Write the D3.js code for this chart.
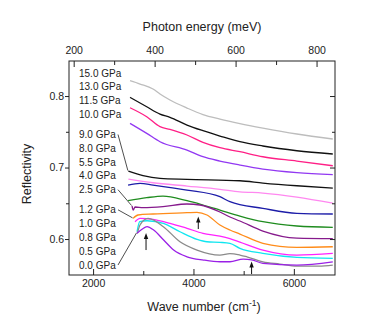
<!DOCTYPE html>
<html>
<head>
<meta charset="utf-8">
<script src="https://cdn.jsdelivr.net/npm/d3@7"></script>
<style>
  body { margin: 0; background: #fff; }
  svg text { font-family: "Liberation Sans", Arial, sans-serif; fill: #222; }
</style>
</head>
<body>
<script>
// pressure labels, top to bottom
var pressures = ["15.0 GPa", "13.0 GPa", "11.5 GPa", "10.0 GPa",
                 "9.0 GPa", "8.0 GPa", "5.5 GPa", "4.0 GPa", "2.5 GPa",
                 "1.2 GPa", "1.0 GPa", "0.8 GPa", "0.5 GPa", "0.0 GPa"];

// [wave number (cm-1), reflectivity]
var p150 = [[2736,0.8214],[2935,0.8168],[3194,0.8098],[3333,0.8028],[3532,0.7944],[3871,0.7832],[4189,0.7741],[4527,0.7678],[4925,0.7615],[5383,0.7552],[6060,0.7469],[6776,0.7399]];
var p130 = [[2736,0.7982],[3069,0.7850],[3333,0.7748],[3532,0.7702],[3871,0.7594],[4189,0.7515],[4527,0.7441],[4925,0.7361],[5383,0.7301],[6060,0.7235],[6776,0.7189]];
var p115 = [[2736,0.7836],[3069,0.7710],[3333,0.7571],[3532,0.7534],[3871,0.7455],[4189,0.7352],[4527,0.7277],[4925,0.7221],[5383,0.7151],[6060,0.7091],[6776,0.7025]];
var p100 = [[2736,0.7618],[3069,0.7478],[3333,0.7361],[3871,0.7245],[4189,0.7151],[4527,0.7091],[4925,0.7035],[5383,0.6979],[6060,0.6930],[6776,0.6902]];
var p90  = [[2703,0.6951],[2995,0.6888],[3333,0.6849],[3871,0.6835],[4925,0.6815],[5383,0.6783],[6060,0.6745],[6776,0.6713]];
var p80  = [[2703,0.6839],[3194,0.6787],[3871,0.6741],[4527,0.6695],[4925,0.6661],[5383,0.6643],[6060,0.6587],[6776,0.6501]];
var p55  = [[2697,0.6755],[2935,0.6778],[3194,0.6755],[3871,0.6685],[4527,0.6592],[4726,0.6522],[5383,0.6429],[6060,0.6359],[6776,0.6350]];
var p40  = [[2697,0.6536],[3069,0.6578],[3393,0.6601],[3871,0.6536],[4189,0.6476],[4527,0.6406],[4925,0.6322],[5383,0.6242],[6060,0.6182],[6776,0.6164]];
var p25  = [[2776,0.6462],[2800,0.6406],[2836,0.6448],[2995,0.6438],[3393,0.6452],[3871,0.6490],[4130,0.6476],[4527,0.6378],[4726,0.6308],[4925,0.6252],[5383,0.6112],[6060,0.6014],[6776,0.6007]];
var p12  = [[2796,0.6289],[2896,0.6336],[3194,0.6350],[3871,0.6368],[4070,0.6373],[4269,0.6336],[4527,0.6196],[4726,0.6126],[4925,0.6070],[5383,0.5940],[6060,0.5884],[6776,0.5892]];
var p10  = [[2836,0.6242],[2935,0.6290],[3194,0.6276],[3532,0.6220],[3871,0.6150],[4189,0.6080],[4527,0.6042],[4726,0.6007],[4925,0.5958],[5383,0.5846],[6060,0.5776],[6776,0.5800]];
var p08  = [[2876,0.6102],[2929,0.6242],[3075,0.6256],[3400,0.6220],[3731,0.6102],[4070,0.5996],[4269,0.5962],[4527,0.5954],[4726,0.5940],[4925,0.5870],[5383,0.5800],[6060,0.5744],[6776,0.5730]];
var p05  = [[2882,0.6080],[2935,0.6196],[3095,0.6289],[3400,0.6173],[3731,0.5962],[4070,0.5846],[4527,0.5776],[4726,0.5795],[4925,0.5776],[5065,0.5752],[5383,0.5682],[5721,0.5650],[6060,0.5620],[6500,0.5622],[6776,0.5636]];
var p00  = [[2876,0.6080],[2975,0.6136],[3075,0.6173],[3207,0.6126],[3406,0.5986],[3605,0.5846],[3871,0.5752],[4201,0.5706],[4527,0.5682],[4726,0.5682],[4992,0.5720],[5158,0.5710],[5383,0.5660],[6060,0.5636],[6776,0.5682]];

var series = [p150, p130, p115, p100, p90, p80, p55, p40, p25, p12, p10, p08, p05, p00];

var colors = ["#bdbdbd", "#111111", "#ff1f86", "#9238f2",
              "#111111", "#ff88f0", "#1c1ca8", "#1f8c1f", "#861a8c",
              "#ff8c1a", "#ff22ff", "#10e6f0", "#8a8a8a", "#9a20e6"];

// arrows marking the features
var arrowWn   = [3055, 4096, 5158];
var arrowTip  = [0.6084, 0.6315, 0.5685];
var arrowTail = [0.5846, 0.6140, 0.5510];

var xTicks = [2000, 4000, 6000];
var xMinor = [3000, 5000];
var topTicks = [200, 400, 600, 800];   // meV
var topMinor = [300, 500, 700];
var yTicks = [0.6, 0.7, 0.8];
var yMinor = [0.65, 0.75];
var cmPerMeV = 8.06554;

var width = 374, height = 336;
var margin = {top: 61, right: 39, bottom: 61, left: 69};
var w = width - margin.left - margin.right,
    h = height - margin.top - margin.bottom;

var svg = d3.select("body").append("svg")
    .attr("width", width)
    .attr("height", height);

var g = svg.append("g")
    .attr("transform", "translate(" + margin.left + "," + margin.top + ")");

var x = d3.scaleLinear().domain([1520, 6820]).range([0, w]);
var y = d3.scaleLinear().domain([0.5497, 0.849]).range([h, 0]);
// top axis: photon energy in meV
var xTop = d3.scaleLinear().domain(x.domain().map(function (d) { return d / cmPerMeV; })).range([0, w]);

// the curves
var line = d3.line()
    .curve(d3.curveMonotoneX)
    .x(function (d) { return x(d[0]); })
    .y(function (d) { return y(d[1]); });

g.selectAll("path.curve").data(series)
    .enter().append("path")
    .attr("class", "curve")
    .attr("d", line)
    .attr("fill", "none")
    .attr("stroke", function (d, i) { return colors[i]; })
    .attr("stroke-width", 1.3)
    .attr("stroke-linejoin", "round");

// axes (ticks inside except the left one)
function axisStyle(sel) {
  sel.select(".domain").remove();
  sel.selectAll("line").attr("stroke", "#222");
  sel.selectAll("text").attr("font-size", 10.5).attr("fill", "#222");
}

g.append("g").attr("transform", "translate(0," + h + ")")
  .call(d3.axisBottom(x).tickValues(xTicks).tickSizeInner(-6).tickSizeOuter(0).tickPadding(5)
        .tickFormat(d3.format("d")))
  .call(axisStyle);
g.append("g").attr("transform", "translate(0," + h + ")")
  .call(d3.axisBottom(x).tickValues(xMinor).tickSize(-4).tickFormat(""))
  .call(axisStyle);

g.append("g")
  .call(d3.axisTop(xTop).tickValues(topTicks).tickSizeInner(-6).tickSizeOuter(0).tickPadding(7)
        .tickFormat(d3.format("d")))
  .call(axisStyle);
g.append("g")
  .call(d3.axisTop(xTop).tickValues(topMinor).tickSize(-4).tickFormat(""))
  .call(axisStyle);

g.append("g")
  .call(d3.axisLeft(y).tickValues(yTicks).tickSizeInner(4).tickSizeOuter(0).tickPadding(1)
        .tickFormat(d3.format(".1f")))
  .call(axisStyle);
g.append("g")
  .call(d3.axisLeft(y).tickValues(yMinor).tickSize(3).tickFormat(""))
  .call(axisStyle);

g.append("g").attr("transform", "translate(" + w + ",0)")
  .call(d3.axisRight(y).tickValues(yTicks).tickSize(-5).tickFormat(""))
  .call(axisStyle);
g.append("g").attr("transform", "translate(" + w + ",0)")
  .call(d3.axisRight(y).tickValues(yMinor).tickSize(-3).tickFormat(""))
  .call(axisStyle);

// frame
g.append("rect")
  .attr("width", w).attr("height", h)
  .attr("fill", "none").attr("stroke", "#222").attr("stroke-width", 1);

// axis titles
svg.append("text")
  .attr("x", margin.left + w / 2).attr("y", 31)
  .attr("text-anchor", "middle").attr("font-size", 12.5)
  .text("Photon energy (meV)");

var xt = svg.append("text")
  .attr("x", margin.left + w / 2 + 2).attr("y", 311)
  .attr("text-anchor", "middle").attr("font-size", 12.5);
xt.append("tspan").text("Wave number (cm");
xt.append("tspan").attr("dy", -5).attr("font-size", 8.5).text("-1");
xt.append("tspan").attr("dy", 5).text(")");

svg.append("text")
  .attr("transform", "translate(31,174) rotate(-90)")
  .attr("text-anchor", "middle").attr("font-size", 12.5)
  .text("Reflectivity");

// pressure labels, three groups
var groupStart = [76.5, 138, 213.3], groupSize = [4, 5, 5], step = 13.8;
var labelY = [];
groupSize.forEach(function (n, k) {
  for (var j = 0; j < n; j++) labelY.push(groupStart[k] + j * step);
});

svg.selectAll("text.plabel").data(pressures)
  .enter().append("text")
  .attr("class", "plabel")
  .attr("x", 79)
  .attr("y", function (d, i) { return labelY[i]; })
  .attr("font-size", 10)
  .text(function (d) { return d; });

// leader lines from label to the start of its curve
var leaders = [4, 8, 9, 13];
g.selectAll("line.leader").data(leaders)
  .enter().append("line")
  .attr("class", "leader")
  .attr("x1", 118 - margin.left)
  .attr("y1", function (i) { return labelY[i] - 3.5 - margin.top; })
  .attr("x2", function (i) { return x(series[i][0][0]) - 0.5; })
  .attr("y2", function (i) { return y(series[i][0][1]) - 0.5; })
  .attr("stroke", "#222")
  .attr("stroke-width", 0.8);

// arrows
var arrowIdx = d3.range(arrowWn.length);
g.selectAll("line.arrow").data(arrowIdx)
  .enter().append("line")
  .attr("x1", function (i) { return x(arrowWn[i]); })
  .attr("x2", function (i) { return x(arrowWn[i]); })
  .attr("y1", function (i) { return y(arrowTail[i]); })
  .attr("y2", function (i) { return y(arrowTip[i]) + 3; })
  .attr("stroke", "#111").attr("stroke-width", 1);
g.selectAll("path.head").data(arrowIdx)
  .enter().append("path")
  .attr("d", function (i) {
    var ax = x(arrowWn[i]), ay = y(arrowTip[i]);
    return "M" + ax + "," + ay + "L" + (ax - 2.2) + "," + (ay + 6) + "L" + (ax + 2.2) + "," + (ay + 6) + "Z";
  })
  .attr("fill", "#111");
</script>
</body>
</html>
